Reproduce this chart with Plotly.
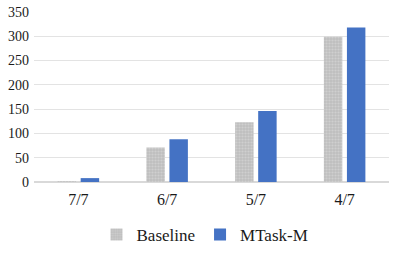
import plotly.graph_objects as go

categories = ["7/7", "6/7", "5/7", "4/7"]
baseline = [2, 71, 123, 299]
mtask = [8, 88, 146, 318]
y_ticks = [0, 50, 100, 150, 200, 250, 300, 350]

SERIF = "Liberation Serif, Times New Roman, serif"

fig = go.Figure()
fig.add_trace(go.Bar(
    x=categories, y=baseline, name="Baseline",
    marker=dict(color="#BFBFBF", line=dict(width=0),
                pattern=dict(shape=".", fgcolor="#E0E0E0", bgcolor="#BFBFBF", size=3, solidity=0.4)),
))
fig.add_trace(go.Bar(
    x=categories, y=mtask, name="MTask-M",
    marker=dict(color="#4472C4", line=dict(width=0)),
))

fig.update_layout(
    width=410, height=253,
    margin=dict(l=34, r=21, t=12, b=71, autoexpand=False),
    paper_bgcolor="white", plot_bgcolor="white",
    barmode="group", bargap=0.48, bargroupgap=0.2,
    font=dict(family=SERIF, color="#1a1a1a"),
    legend=dict(orientation="h", x=0.5, xanchor="center", xref="container",
                y=0.0, yanchor="bottom", yref="container",
                font=dict(family=SERIF, size=17, color="#1a1a1a"), itemwidth=30, traceorder="normal"),
    showlegend=True,
)
fig.update_xaxes(showgrid=False, showline=False, ticks="", tickfont=dict(family=SERIF, size=16),
                 ticklabelstandoff=6, automargin=False)
fig.update_yaxes(range=[0, 350], tickvals=y_ticks, showgrid=True, gridcolor="#E3E3E3",
                 zeroline=True, zerolinecolor="#D9D9D9", showline=False, ticks="",
                 tickfont=dict(family=SERIF, size=14), ticklabelstandoff=4, automargin=False)

fig.write_html("out.html", post_script="document.body.style.margin='0px';",
               config={"displayModeBar": False})
